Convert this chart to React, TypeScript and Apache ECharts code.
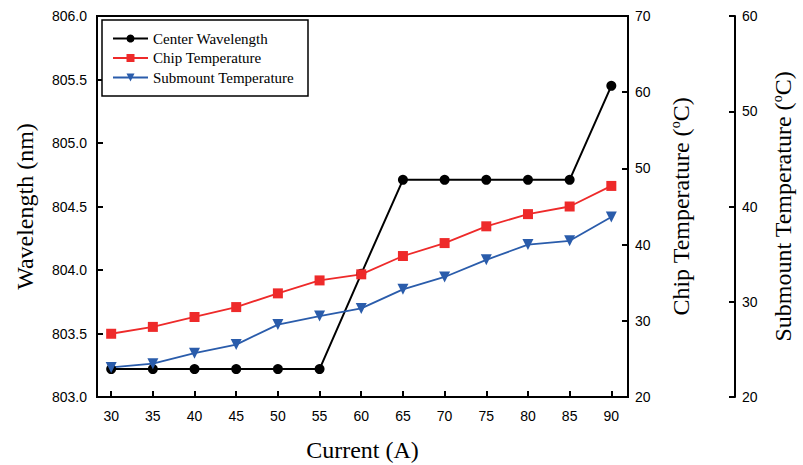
import React, { useEffect, useRef } from "react";
import * as echarts from "echarts";

const currents = [30, 35, 40, 45, 50, 55, 60, 65, 70, 75, 80, 85, 90];
const centerWavelength = [803.22, 803.22, 803.22, 803.22, 803.22, 803.22, 803.97, 804.71, 804.71, 804.71, 804.71, 804.71, 805.45];
const chipTemperature = [28.3, 29.2, 30.5, 31.8, 33.6, 35.3, 36.1, 38.5, 40.2, 42.4, 44.0, 45.0, 47.7];
const submountTemperature = [23.1, 23.5, 24.6, 25.5, 27.6, 28.5, 29.3, 31.3, 32.6, 34.4, 36.0, 36.4, 38.9];
const xTicks = [30, 35, 40, 45, 50, 55, 60, 65, 70, 75, 80, 85, 90];

const SERIF = "'Liberation Serif', 'Times New Roman', serif";
const SANS = "'Liberation Sans', Arial, sans-serif";

export default function App() {
  const ref = useRef<HTMLDivElement>(null);
  useEffect(() => {
    if (!ref.current) return;
    const chart = echarts.init(ref.current, null, { renderer: "svg" });
    const axisLabel = { color: "#000", fontFamily: SANS, fontSize: 14 };
    const axisLine = { show: true, lineStyle: { color: "#000", width: 2 } };
    const axisTick = { show: true, inside: true, length: 6, lineStyle: { color: "#000", width: 2 } };
    const nameStyle = {
      color: "#000",
      fontFamily: SERIF,
      fontSize: 24,
      rich: {
        sup: { fontFamily: SERIF, fontSize: 14, color: "#000", padding: [0, 0, 12, 0] },
      },
    };
    const pair = (arr: number[]) => currents.map((c, i) => [c, arr[i]]);
    chart.setOption({
      animation: false,
      backgroundColor: "#fff",
      grid: {
        left: 97,
        right: 175,
        top: 16,
        bottom: 68,
        show: true,
        borderColor: "#000",
        borderWidth: 2,
        containLabel: false,
        outerBoundsMode: "none",
      },
      legend: {
        orient: "vertical",
        left: 102,
        top: 20,
        padding: [11, 14, 11, 10],
        itemGap: 4.5,
        itemWidth: 35,
        itemHeight: 10,
        itemTextGap: 7,
        borderColor: "#000",
        borderWidth: 1.5,
        backgroundColor: "#fff",
        textStyle: { color: "#000", fontFamily: SERIF, fontSize: 15 },
        data: ["Center Wavelength", "Chip Temperature", "Submount Temperature"],
      },
      xAxis: {
        type: "value",
        min: 28.3,
        max: 92,
        name: "Current (A)",
        nameLocation: "middle",
        nameGap: 41,
        nameTextStyle: nameStyle,
        axisLine,
        axisTick: { ...axisTick, customValues: xTicks },
        axisLabel: { ...axisLabel, customValues: xTicks, margin: 12 },
        splitLine: { show: false },
      },
      yAxis: [
        {
          type: "value",
          min: 803,
          max: 806,
          interval: 0.5,
          position: "left",
          name: "Wavelength (nm)",
          nameLocation: "middle",
          nameGap: 60,
          nameTextStyle: nameStyle,
          axisLine,
          axisTick,
          axisLabel: { ...axisLabel, formatter: (v: number) => v.toFixed(1), margin: 10 },
          splitLine: { show: false },
        },
        {
          type: "value",
          min: 20,
          max: 70,
          interval: 10,
          position: "right",
          name: "Chip Temperature ({sup|o}C)",
          nameLocation: "middle",
          nameGap: 40,
          nameRotate: 90,
          nameTextStyle: nameStyle,
          axisLine,
          axisTick,
          axisLabel: { ...axisLabel, margin: 7 },
          splitLine: { show: false },
        },
        {
          type: "value",
          min: 20,
          max: 60,
          interval: 10,
          position: "right",
          offset: 107,
          name: "Submount Temperature ({sup|o}C)",
          nameLocation: "middle",
          nameGap: 35,
          nameRotate: 90,
          nameTextStyle: nameStyle,
          axisLine,
          axisTick,
          axisLabel: { ...axisLabel, margin: 7 },
          splitLine: { show: false },
        },
      ],
      series: [
        {
          name: "Center Wavelength",
          type: "line",
          yAxisIndex: 0,
          data: pair(centerWavelength),
          symbol: "circle",
          symbolSize: 10,
          itemStyle: { color: "#000" },
          lineStyle: { color: "#000", width: 2 },
        },
        {
          name: "Chip Temperature",
          type: "line",
          yAxisIndex: 1,
          data: pair(chipTemperature),
          symbol: "rect",
          symbolSize: 10,
          itemStyle: { color: "#ee2a2a" },
          lineStyle: { color: "#ee2a2a", width: 1.8 },
        },
        {
          name: "Submount Temperature",
          type: "line",
          yAxisIndex: 2,
          data: pair(submountTemperature),
          symbol: "triangle",
          symbolRotate: 180,
          symbolSize: 11,
          itemStyle: { color: "#2a5cab" },
          lineStyle: { color: "#2a5cab", width: 1.8 },
        },
      ],
    });
    return () => chart.dispose();
  }, []);
  return <div ref={ref} style={{ width: 803, height: 465, position: "absolute", left: 0, top: 0 }} />;
}
